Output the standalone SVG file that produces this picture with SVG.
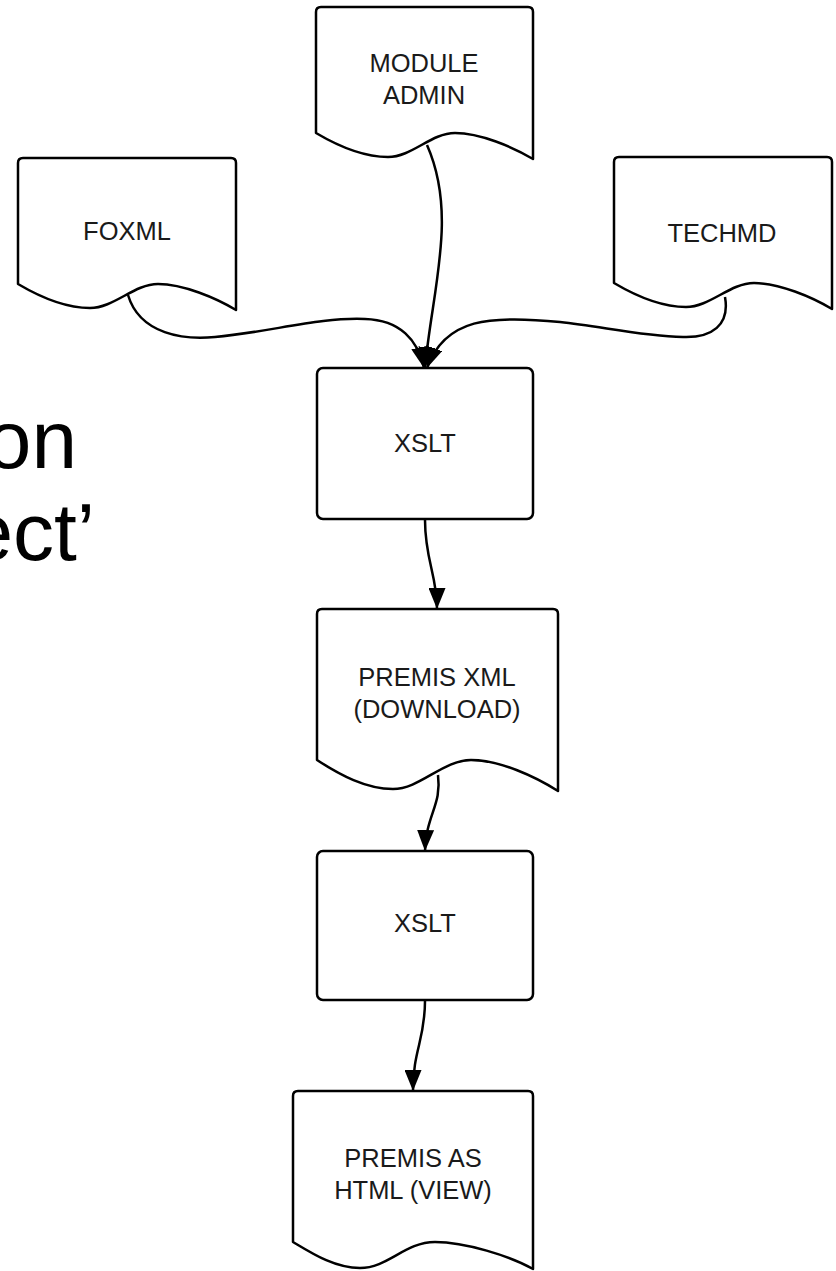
<svg xmlns="http://www.w3.org/2000/svg" width="836" height="1271" viewBox="0 0 836 1271">
<defs>
<style>
.shape{fill:#fff;stroke:#000;stroke-width:2.5;stroke-linejoin:round}
.lbl{font-family:"Liberation Sans",Arial,sans-serif;font-size:25.5px;fill:#1a1a1a;text-anchor:middle}
.big{font-family:"Liberation Sans",Arial,sans-serif;font-size:82px;fill:#000;text-anchor:end}
.edge{fill:none;stroke:#000;stroke-width:2.5;marker-end:url(#arrow)}
</style>
<marker id="arrow" markerUnits="userSpaceOnUse" markerWidth="21" markerHeight="17" viewBox="0 0 21 17" refX="21" refY="8.5" orient="auto">
<path d="M0,0 L21,8.5 L0,17 Z" fill="#000"/>
</marker>
</defs>
<rect width="836" height="1271" fill="#fff"/>
<g id="title-fragment">
<text class="big" x="77" y="468">on</text>
<text class="big" x="95" y="560">ect’</text>
</g>
<g id="connectors">
<path class="edge" d="M427,145 C458,215 432,290 425,368"/>
<path class="edge" d="M128,295 C140,335 185,340 215,337 C270,332 320,317 365,319 C400,320 418,340 424,368"/>
<path class="edge" d="M725,297 C730,325 712,338 683,337 C640,336 600,326 560,322 C490,315 445,318 427,368"/>
<path class="edge" d="M425,520 C425,560 437,575 437,609"/>
<path class="edge" d="M438,775 C442,805 426,815 425,851"/>
<path class="edge" d="M425,1001 C425,1040 413,1050 413,1091"/>
</g>
<g id="module-admin">
<path class="shape" d="M316,12 Q316,7 321,7 H528 Q533,7 533,12 V159 C513,147 480,133 455,133 C431,133 412,157 388,157 C365,157 338,146 316,133 Z"/>
<text class="lbl" x="424" y="72">MODULE</text>
<text class="lbl" x="424" y="104">ADMIN</text>
</g>
<g id="foxml">
<path class="shape" d="M18,163 Q18,158 23,158 H231 Q236,158 236,163 V310 C216,298 183,284 158,284 C134,284 114,308 90,308 C67,308 40,297 18,284 Z"/>
<text class="lbl" x="127" y="240">FOXML</text>
</g>
<g id="techmd">
<path class="shape" d="M614,162 Q614,157 619,157 H827 Q832,157 832,162 V309 C812,297 779,283 754,283 C730,283 710,307 686,307 C663,307 636,296 614,283 Z"/>
<text class="lbl" x="722" y="242">TECHMD</text>
</g>
<g id="xslt-1">
<rect class="shape" x="317" y="368" width="216" height="151" rx="6"/>
<text class="lbl" x="425" y="452">XSLT</text>
</g>
<g id="premis-xml">
<path class="shape" d="M317,614 Q317,609 322,609 H553 Q558,609 558,614 V791 C536,777 500,760 471,760 C443,760 420,789 393,789 C366,789 340,775 317,760 Z"/>
<text class="lbl" x="437" y="686">PREMIS XML</text>
<text class="lbl" x="437" y="718">(DOWNLOAD)</text>
</g>
<g id="xslt-2">
<rect class="shape" x="317" y="851" width="216" height="149" rx="6"/>
<text class="lbl" x="425" y="932">XSLT</text>
</g>
<g id="premis-html">
<path class="shape" d="M293,1096 Q293,1091 298,1091 H528 Q533,1091 533,1096 V1269 C510,1256 465,1242 435,1242 C405,1242 388,1268 360,1268 C335,1268 313,1254 293,1242 Z"/>
<text class="lbl" x="413" y="1167">PREMIS AS</text>
<text class="lbl" x="413" y="1199">HTML (VIEW)</text>
</g>
</svg>
